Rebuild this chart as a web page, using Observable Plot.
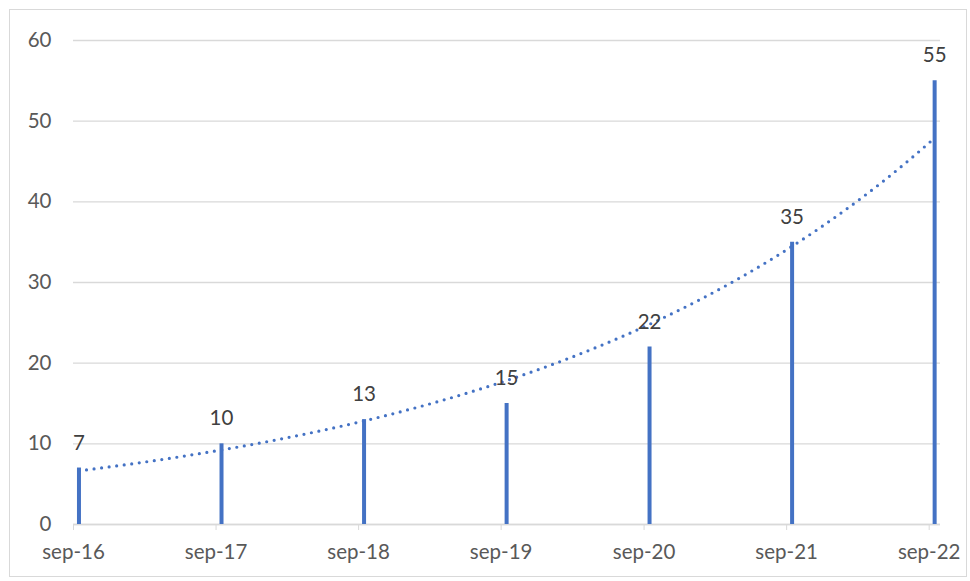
<!DOCTYPE html>
<html>
<head>
<meta charset="utf-8">
<script src="https://cdn.jsdelivr.net/npm/d3@7"></script>
<script src="https://cdn.jsdelivr.net/npm/@observablehq/plot@0.6"></script>
<style>
  html, body { margin: 0; padding: 0; background: #fff; }
  #wrap { position: relative; width: 970px; height: 581px; overflow: hidden; }
  #border { position: absolute; left: 9px; top: 9px; width: 958px; height: 568px; border: 1.5px solid #d9d9d9; box-sizing: border-box; pointer-events: none; }
  svg { font-family: Lato, "Open Sans", sans-serif; }
</style>
</head>
<body>
<div id="wrap"><div id="border"></div></div>
<script>
const dates = ["2016-09-15","2017-09-15","2018-09-15","2019-09-15","2020-09-15","2021-09-15","2022-09-15"];
const values = [7, 10, 13, 15, 22, 35, 55];
const tickDates = ["2016-09-01","2017-09-01","2018-09-01","2019-09-01","2020-09-01","2021-09-01","2022-09-01"];
const tickLabels = ["sep-16","sep-17","sep-18","sep-19","sep-20","sep-21","sep-22"];
const yTicks = [0, 10, 20, 30, 40, 50, 60];

const data = dates.map((d, i) => ({date: new Date(d), value: values[i]}));
const ticks = tickDates.map(d => new Date(d));
const labelOf = new Map(ticks.map((t, i) => [+t, tickLabels[i]]));

// Exponential trendline (least squares on ln y), like Excel's
const t0 = +data[0].date;
const xs = data.map(d => (+d.date - t0) / 86400000);
const ls = data.map(d => Math.log(d.value));
const mx = d3.mean(xs), ml = d3.mean(ls);
const b = d3.sum(xs.map((x, i) => (x - mx) * (ls[i] - ml))) / d3.sum(xs.map(x => (x - mx) ** 2));
const a = ml - b * mx;
const xEnd = xs[xs.length - 1];
const trend = d3.range(0, xEnd + 1, 5).concat([xEnd]).map(x => ({date: new Date(t0 + x * 86400000), value: Math.exp(a + b * x)}));

const chart = Plot.plot({
  width: 970,
  height: 581,
  marginLeft: 73,
  marginRight: 30,
  marginTop: 40,
  marginBottom: 57,
  style: {fontSize: "20.5px", fontFamily: "Lato, 'Open Sans', sans-serif", color: "#595959", background: "transparent"},
  x: {type: "utc", domain: [new Date("2016-09-01"), new Date("2022-09-30")]},
  y: {domain: [0, 60]},
  marks: [
    Plot.gridY(yTicks, {stroke: "#d9d9d9", strokeOpacity: 1, strokeWidth: 1.3}),
    Plot.axisY(yTicks, {tickSize: 0, tickPadding: 22, label: null, fill: "#595959", fontSize: 20.5}),
    Plot.ruleY([0], {stroke: "#d9d9d9", strokeWidth: 1.3}),
    Plot.axisX(ticks, {tickSize: 6, stroke: "#d9d9d9", tickPadding: 14, tickFormat: d => labelOf.get(+d), label: null, fill: "#595959", fontSize: 20.5}),
    Plot.ruleX(data, {x: "date", y1: 0, y2: "value", stroke: "#4472C4", strokeWidth: 4}),
    Plot.line(trend, {x: "date", y: "value", stroke: "#4472C4", strokeWidth: 3.2, strokeDasharray: "0 7.6", strokeLinecap: "round"}),
    Plot.text(data, {x: "date", y: "value", text: d => String(d.value), dy: -25, fill: "#404040", fontSize: 20.5})
  ]
});
document.getElementById("wrap").prepend(chart);
</script>
</body>
</html>
